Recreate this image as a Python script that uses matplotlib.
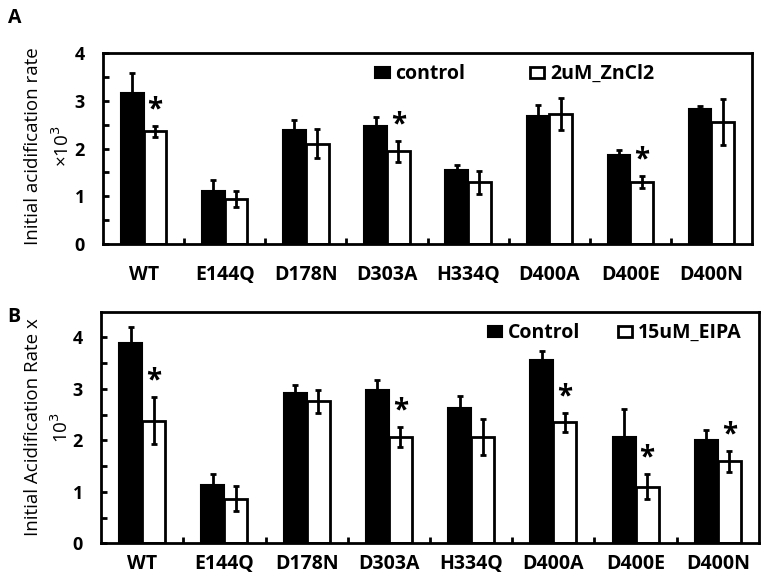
import matplotlib
matplotlib.use('Agg')
import matplotlib.pyplot as plt
import numpy as np

plt.rcParams['font.family'] = ['Open Sans', 'DejaVu Sans']

mutants = ['WT', 'E144Q', 'D178N', 'D303A', 'H334Q', 'D400A', 'D400E', 'D400N']

# panel A: control vs 2uM ZnCl2
a_ctrl = [3.17, 1.12, 2.39, 2.48, 1.55, 2.69, 1.87, 2.82]
a_ctrl_err = [0.42, 0.22, 0.21, 0.18, 0.10, 0.23, 0.09, 0.08]
a_zn = [2.36, 0.94, 2.10, 1.94, 1.29, 2.72, 1.30, 2.55]
a_zn_err = [0.11, 0.16, 0.30, 0.22, 0.24, 0.33, 0.13, 0.48]
a_star = [True, False, False, True, False, False, True, False]

# panel B: control vs 15uM EIPA
b_ctrl = [3.89, 1.13, 2.92, 2.98, 2.63, 3.57, 2.07, 2.00]
b_ctrl_err = [0.32, 0.22, 0.16, 0.20, 0.24, 0.16, 0.54, 0.20]
b_eipa = [2.38, 0.87, 2.76, 2.07, 2.06, 2.35, 1.10, 1.59]
b_eipa_err = [0.46, 0.24, 0.22, 0.19, 0.35, 0.18, 0.24, 0.21]
b_star = [True, False, False, True, False, True, True, True]


def draw_panel(ax, ctrl, ctrl_err, trt, trt_err, stars, ymax, labels, ylab,
               xpad, leg_xy, colsp):
    x = np.arange(len(mutants))
    w = 0.28
    ax.bar(x - w / 2, ctrl, w, color='black', edgecolor='black', linewidth=1.5,
           label=labels[0], zorder=2)
    ax.bar(x + w / 2, trt, w, color='white', edgecolor='black', linewidth=2,
           label=labels[1], zorder=2)
    ax.errorbar(x - w / 2, ctrl, yerr=ctrl_err, fmt='none', ecolor='black',
                elinewidth=2, capsize=2, capthick=2, zorder=3)
    ax.errorbar(x + w / 2, trt, yerr=trt_err, fmt='none', ecolor='black',
                elinewidth=2, capsize=2, capthick=2, zorder=3)
    for i in range(len(mutants)):
        if stars[i]:
            ax.text(x[i] + w / 2, trt[i] + trt_err[i] + 0.03, '*', ha='center',
                    va='bottom', fontsize=20, fontweight='bold')
    ax.set_xlim(-0.5, len(mutants) - 0.5)
    ax.set_ylim(0, ymax)
    ax.set_xticks(x)
    ax.set_xticklabels(mutants, fontsize=14, fontweight='bold')
    ax.tick_params(axis='x', length=0, pad=xpad)
    ax.set_xticks(np.arange(0.5, len(mutants) - 1, 1), minor=True)
    ax.tick_params(axis='x', which='minor', direction='in', length=4, width=2)
    ax.set_yticks([0, 1, 2, 3, 4])
    ax.set_yticklabels(['0', '1', '2', '3', '4'], fontsize=13, fontweight='bold')
    ax.set_yticks(np.arange(0.5, 4, 1), minor=True)
    ax.tick_params(axis='y', which='both', direction='in', length=4, width=2, pad=13)
    for s in ax.spines.values():
        s.set_linewidth(2)
    ax.set_ylabel(ylab, fontsize=13.5, linespacing=1.5)
    ax.legend(loc='center left', bbox_to_anchor=leg_xy, ncol=2, frameon=False,
              prop={'weight': 'bold', 'size': 14}, handlelength=0.75,
              handleheight=0.5, handletextpad=0.3, columnspacing=colsp,
              borderaxespad=0, borderpad=0)


fig = plt.figure(figsize=(7.7, 5.87), dpi=100)
axA = fig.add_axes([0.1338, 0.5843, 0.8429, 0.3254])
axB = fig.add_axes([0.1312, 0.0744, 0.8545, 0.3946])

draw_panel(axA, a_ctrl, a_ctrl_err, a_zn, a_zn_err, a_star, 4,
           ['control', '2uM_ZnCl2'], 'Initial acidification rate\n×10$^3$',
           15, (0.419, 0.89), 3.3)
draw_panel(axB, b_ctrl, b_ctrl_err, b_eipa, b_eipa_err, b_star, 4.5,
           ['Control', '15uM_EIPA'], 'Initial Acidification Rate x\n10$^3$',
           8, (0.588, 0.908), 1.9)

axA.yaxis.set_label_coords(-0.047, 0.51)
axB.yaxis.set_label_coords(-0.044, 0.5)

fig.text(0.01, 0.9608, 'A', fontsize=14, fontweight='bold')
fig.text(0.01, 0.4514, 'B', fontsize=14, fontweight='bold')

fig.savefig('out.png', dpi=100)
